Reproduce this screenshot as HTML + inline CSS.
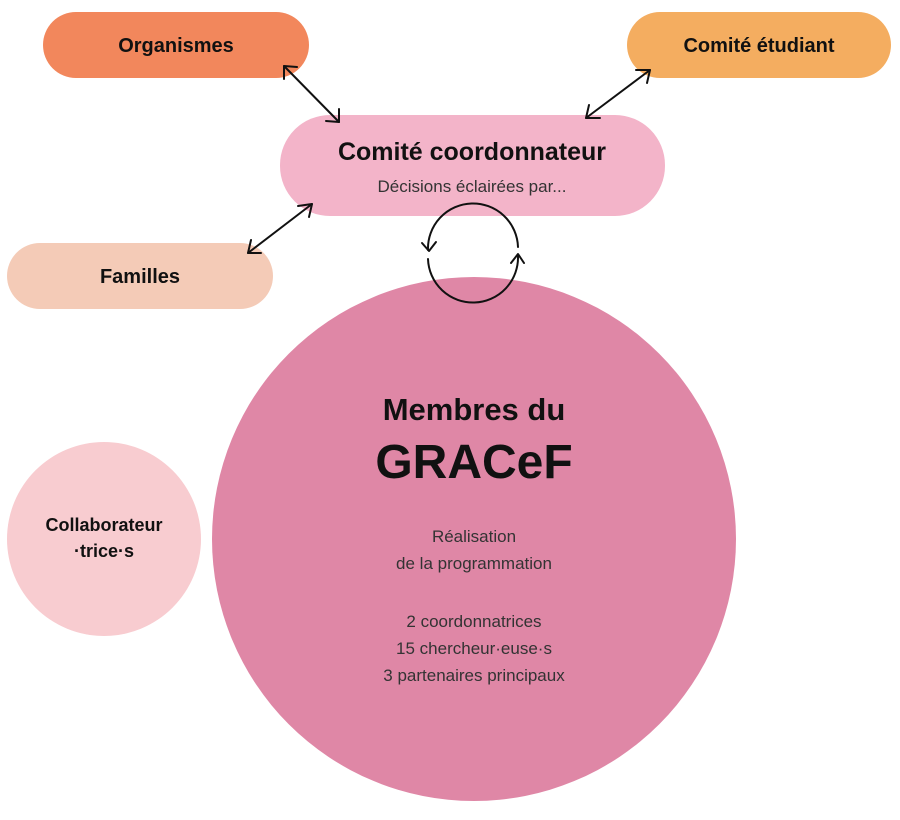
<!DOCTYPE html>
<html><head><meta charset="utf-8"><style>
body{margin:0;background:#fff;width:900px;height:815px;overflow:hidden;font-family:"Liberation Sans","DejaVu Sans",sans-serif}
</style></head><body>
<svg width="900" height="815" viewBox="0 0 900 815" xmlns="http://www.w3.org/2000/svg" font-family="Liberation Sans, DejaVu Sans, sans-serif">
<rect x="43" y="12" width="266" height="66" rx="33" fill="#f2875c"/>
<rect x="627" y="12" width="264" height="66" rx="33" fill="#f4ad60"/>
<rect x="280" y="115" width="385" height="101" rx="50" fill="#f3b4c9"/>
<rect x="7" y="243" width="266" height="66" rx="33" fill="#f4cbb7"/>
<circle cx="474" cy="539" r="262" fill="#df87a6"/>
<circle cx="104" cy="539" r="97" fill="#f8ccd0"/>
<g fill="#111" font-weight="bold" text-anchor="middle">
<text x="176" y="52" font-size="20">Organismes</text>
<text x="759" y="52" font-size="20">Comité étudiant</text>
<text x="472" y="160" font-size="25">Comité coordonnateur</text>
<text x="140" y="283" font-size="20">Familles</text>
<text x="474" y="420" font-size="31">Membres du</text>
<text x="474" y="478" font-size="48">GRACeF</text>
<text x="104" y="531" font-size="18">Collaborateur</text>
<text x="104" y="557" font-size="18">·trice·s</text>
</g>
<g fill="#333" text-anchor="middle" font-size="17">
<text x="472" y="192" font-size="17">Décisions éclairées par...</text>
<text x="474" y="542">Réalisation</text>
<text x="474" y="569">de la programmation</text>
<text x="474" y="627">2 coordonnatrices</text>
<text x="474" y="654">15 chercheur·euse·s</text>
<text x="474" y="681">3 partenaires principaux</text>
</g>
<g stroke="#111" stroke-width="2" fill="none" stroke-linecap="round" stroke-linejoin="round">
<line x1="284" y1="66" x2="339" y2="122"/>
<polyline points="284,79 284,66 297,67"/>
<polyline points="326,121 339,122 339,109"/>
<line x1="650" y1="70" x2="586" y2="118"/>
<polyline points="636,70 650,70 647,83"/>
<polyline points="589,105 586,118 600,118"/>
<line x1="312" y1="204" x2="248" y2="253"/>
<polyline points="298,206 312,204 309,217"/>
<polyline points="251,240 248,253 261,253"/>
<path d="M518 247 A45 45 0 1 0 428 250"/>
<polyline points="422,243 429,251 436,242"/>
<path d="M428 259 A45 45 0 0 0 518 256"/>
<polyline points="511,263 518,254 524,263"/>
</g>
</svg>
</body></html>
